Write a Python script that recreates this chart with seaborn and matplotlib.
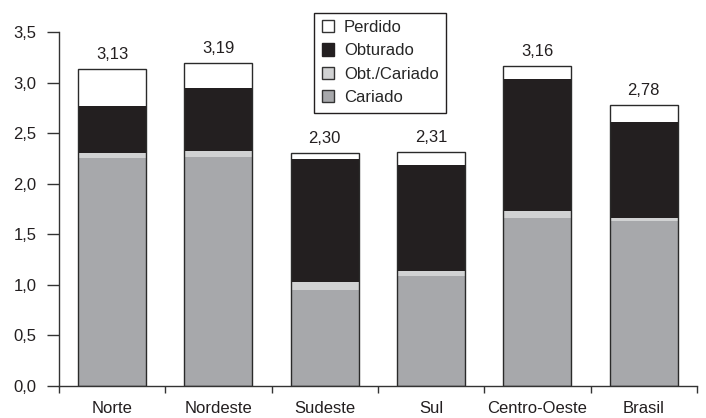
import matplotlib
matplotlib.use('Agg')
import matplotlib.pyplot as plt
import seaborn as sns
import numpy as np
from matplotlib.patches import Patch
from matplotlib.ticker import FixedLocator

regions = ['Norte', 'Nordeste', 'Sudeste', 'Sul', 'Centro-Oeste', 'Brasil']
cariado = [2.25, 2.26, 0.95, 1.09, 1.66, 1.63]
obt_cariado = [0.05, 0.06, 0.08, 0.05, 0.07, 0.03]
obturado = [0.47, 0.63, 1.21, 1.05, 1.31, 0.95]
totals = [3.13, 3.19, 2.30, 2.31, 3.16, 2.78]
total_labels = ['3,13', '3,19', '2,30', '2,31', '3,16', '2,78']
y_ticks = [0, 0.5, 1.0, 1.5, 2.0, 2.5, 3.0, 3.5]

sns.set_style('ticks')
plt.rcParams['font.family'] = ['Liberation Sans', 'DejaVu Sans']

# perdido is whatever is left up to the reported total
perdido = list(np.array(totals) - np.array(cariado) - np.array(obt_cariado) - np.array(obturado))

layers = [
    ('Cariado', cariado, '#a7a8ab'),
    ('Obt./Cariado', obt_cariado, '#d1d2d3'),
    ('Obturado', obturado, '#231f20'),
    ('Perdido', perdido, '#ffffff'),
]

fig = plt.figure(figsize=(7.06, 4.18), dpi=100)
ax = fig.add_axes([0.0836, 0.0766, 0.9034, 0.8468])

bottom = np.zeros(len(regions))
for name, vals, col in layers:
    sns.barplot(x=regions, y=vals, bottom=bottom, color=col, width=0.64,
                edgecolor='none', linewidth=0, saturation=1, ax=ax)
    bottom = bottom + np.array(vals)

# outline around each full bar
sns.barplot(x=regions, y=totals, fill=False, width=0.64, edgecolor='#2a2a2a',
            linewidth=1.0, ax=ax)

for i, lab in enumerate(total_labels):
    ax.text(i, totals[i] + 0.07, lab, ha='center', va='bottom', fontsize=12, color='#231f20')

ax.set_xlim(-0.5, len(regions) - 0.5)
ax.set_ylim(0, 3.5)
ax.set_yticks(y_ticks)
ax.set_yticklabels([f'{v:.1f}'.replace('.', ',') for v in y_ticks])
ax.xaxis.set_minor_locator(FixedLocator(np.arange(-0.5, len(regions), 1.0)))
ax.tick_params(axis='x', which='major', length=0, pad=10.5, labelsize=12, labelcolor='#231f20')
ax.tick_params(axis='x', which='minor', length=5, width=1, color='#333333', direction='out')
ax.tick_params(axis='y', length=8.6, width=1, color='#333333', pad=7.5, labelsize=12,
               labelcolor='#231f20', direction='out')
ax.set_xlabel('')
ax.set_ylabel('')

for side in ['top', 'right']:
    ax.spines[side].set_visible(False)
for side in ['left', 'bottom']:
    ax.spines[side].set_color('#333333')
    ax.spines[side].set_linewidth(1.0)

handles = [
    Patch(facecolor='#ffffff', edgecolor='#333333', label='Perdido'),
    Patch(facecolor='#231f20', edgecolor='#231f20', label='Obturado'),
    Patch(facecolor='#d1d2d3', edgecolor='#333333', label='Obt./Cariado'),
    Patch(facecolor='#a7a8ab', edgecolor='#333333', label='Cariado'),
]
leg = fig.legend(handles=handles, loc='upper left', bbox_to_anchor=(0.433, 0.99),
                 fontsize=12, handlelength=0.75, handleheight=0.75, handletextpad=0.6,
                 labelspacing=0.5, fancybox=False, framealpha=1, borderpad=0.45)
leg.get_frame().set_edgecolor('#231f20')
leg.get_frame().set_linewidth(1.0)

plt.savefig('out.png', dpi=100)
plt.close()
